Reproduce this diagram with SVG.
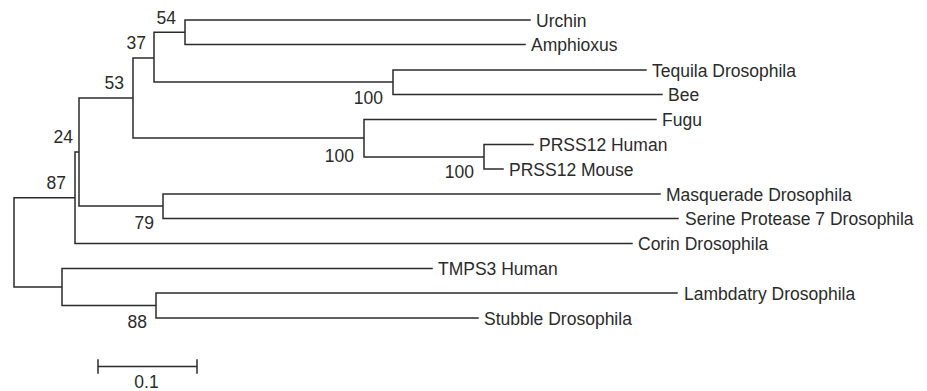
<svg xmlns="http://www.w3.org/2000/svg" width="927" height="391" viewBox="0 0 927 391">
<style>
.b{fill:none;stroke:#2b2b2b;stroke-width:1.5;stroke-linecap:square}
text{font-family:"Liberation Sans",Arial,sans-serif;font-size:17.5px;fill:#2b2b2b}
.s{text-anchor:end}
.m{text-anchor:middle}
</style>
<rect width="927" height="391" fill="#fff"/>
<g id="connectors">
<path class="b" d="M14 197.8V287M14 197.8H75M75 152V243.5M75 152H79M79 98V206M79 98H133M133 58V138M133 58H154M154 32.2V82M154 32.2H185M185 20V44.5M185 20H530M185 44.5H525M154 82H393M393 70V94.5M393 70H646M393 94.5H662M133 138H364M364 119.5V157M364 119.5H656M364 157H484M484 144.5V169M484 144.5H533M484 169H503M79 206H163M163 194V218.5M163 194H660M163 218.5H678M75 243.5H632M14 287H62M62 268.5V305.5M62 268.5H432M62 305.5H156M156 293V318M156 293H677M156 318H478"/>
</g>
<g id="leaf-urchin"><text x="536" y="26.5">Urchin</text></g>
<g id="leaf-amphioxus"><text x="531" y="51">Amphioxus</text></g>
<g id="leaf-tequila"><text x="652" y="76.5">Tequila Drosophila</text></g>
<g id="leaf-bee"><text x="668" y="101">Bee</text></g>
<g id="leaf-fugu"><text x="662" y="126">Fugu</text></g>
<g id="leaf-prss12-human"><text x="539" y="151">PRSS12 Human</text></g>
<g id="leaf-prss12-mouse"><text x="509" y="175.5">PRSS12 Mouse</text></g>
<g id="leaf-masquerade"><text x="666" y="200.5">Masquerade Drosophila</text></g>
<g id="leaf-serine"><text x="685" y="225">Serine Protease 7 Drosophila</text></g>
<g id="leaf-corin"><text x="638" y="250">Corin Drosophila</text></g>
<g id="leaf-tmps3"><text x="438" y="275">TMPS3 Human</text></g>
<g id="leaf-lambdatry"><text x="684" y="299.5">Lambdatry Drosophila</text></g>
<g id="leaf-stubble"><text x="484" y="324.5">Stubble Drosophila</text></g>
<g id="bootstrap">
<text class="s" x="176" y="24">54</text>
<text class="s" x="146" y="49">37</text>
<text class="s" x="124" y="89">53</text>
<text class="s" x="73" y="143">24</text>
<text class="s" x="66" y="189">87</text>
<text class="s" x="154" y="229">79</text>
<text class="s" x="147" y="328">88</text>
<text class="s" x="383" y="104">100</text>
<text class="s" x="354" y="162">100</text>
<text class="s" x="474" y="178">100</text>
</g>
<g id="scale-bar">
<path class="b" d="M98 366.5H197M98 360V373M197 360V373"/>
<text class="m" x="146.5" y="388">0.1</text>
</g>
</svg>
